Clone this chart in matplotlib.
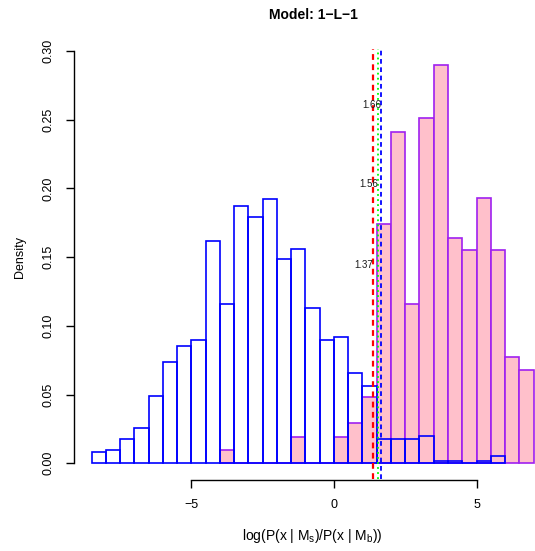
import numpy as np
import matplotlib
matplotlib.use("Agg")
import matplotlib.pyplot as plt

plt.rcParams['font.family'] = ['Liberation Sans', 'DejaVu Sans']
plt.rcParams['mathtext.fontset'] = 'custom'
plt.rcParams['mathtext.rm'] = 'Liberation Sans'
plt.rcParams['mathtext.it'] = 'Liberation Sans'

# Histogram densities, bin width 0.5
bin_width = 0.5
sim_start = -8.5
sim_density = [0.008, 0.010, 0.018, 0.026, 0.049, 0.074, 0.085, 0.090,
               0.162, 0.116, 0.187, 0.179, 0.192, 0.149, 0.156, 0.113,
               0.090, 0.092, 0.066, 0.056, 0.018, 0.018, 0.018, 0.020,
               0.002, 0.002, 0.0, 0.002, 0.005]
obs_start = -4.0
obs_density = [0.0095, 0.0, 0.0, 0.0, 0.0, 0.019, 0.0, 0.0,
               0.019, 0.029, 0.048, 0.174, 0.241, 0.116, 0.251, 0.290,
               0.164, 0.155, 0.193, 0.155, 0.077, 0.068]

# Threshold markers: value, label height, colour, line style
thresholds = [1.37, 1.56, 1.66]
label_y = [0.144, 0.203, 0.261]
line_colors = ['red', '#00FF00', 'blue']
line_styles = [(0, (2.6, 2.0)), (0, (1.0, 1.8)), (0, (2.6, 2.0))]
line_widths = [1.6, 1.3, 1.3]

x_ticks = [-5, 0, 5]
y_ticks = [0.00, 0.05, 0.10, 0.15, 0.20, 0.25, 0.30]

fig = plt.figure(figsize=(5.35, 5.51), dpi=100)
W, H = 535, 551
left_px, right_px, top_px, bottom_px = 74, 551.2, 34.5, 479.8
ax = fig.add_axes([left_px / W, 1 - bottom_px / H,
                   (right_px - left_px) / W, (bottom_px - top_px) / H])

def edges(start, n):
    return start + bin_width * np.arange(n)

obs_left = edges(obs_start, len(obs_density))
ax.bar(obs_left, obs_density, width=bin_width, align='edge',
       color='#FFC0CB', edgecolor='#A020F0', linewidth=1.2, zorder=2)

sim_left = edges(sim_start, len(sim_density))
ax.bar(sim_left, sim_density, width=bin_width, align='edge',
       facecolor='none', edgecolor='#0000FF', linewidth=1.2, zorder=3)

for v, ly, c, ls, lw in zip(thresholds, label_y, line_colors, line_styles, line_widths):
    ax.plot([v, v], [-0.0114, 0.3015], color=c, linestyle=ls, linewidth=lw,
            zorder=4, clip_on=False)
    ax.text(v, ly, f"{v:.2f}", ha='right', va='center', fontsize=7,
            color='#1a1a1a', zorder=5)

ax.set_xlim(-9.12, 7.62)
ax.set_ylim(-0.012, 0.312)

for s in ['top', 'right']:
    ax.spines[s].set_visible(False)
ax.spines['left'].set_bounds(0, 0.30)
ax.spines['bottom'].set_bounds(-5, 5)
ax.spines['left'].set_linewidth(1.0)
ax.spines['bottom'].set_linewidth(1.0)

ax.set_xticks(x_ticks)
ax.set_xticklabels(['\u22125', '0', '5'])
ax.set_yticks(y_ticks)
ax.set_yticklabels([f"{t:.2f}" for t in y_ticks], rotation=90, va='center')
ax.tick_params(axis='both', direction='out', length=6, width=1.0,
               labelsize=9, pad=8)

fig.text(313 / W, 1 - 15 / H, 'Model: 1\u2212L\u22121', fontsize=10,
         fontweight='bold', ha='center', va='center')
ax.set_xlabel(r'$\mathrm{log(P(x\ |\ M_s)/P(x\ |\ M_b))}$', fontsize=10, labelpad=11)
ax.set_ylabel('Density', fontsize=9, labelpad=12)

fig.savefig('out.png', dpi=100)
